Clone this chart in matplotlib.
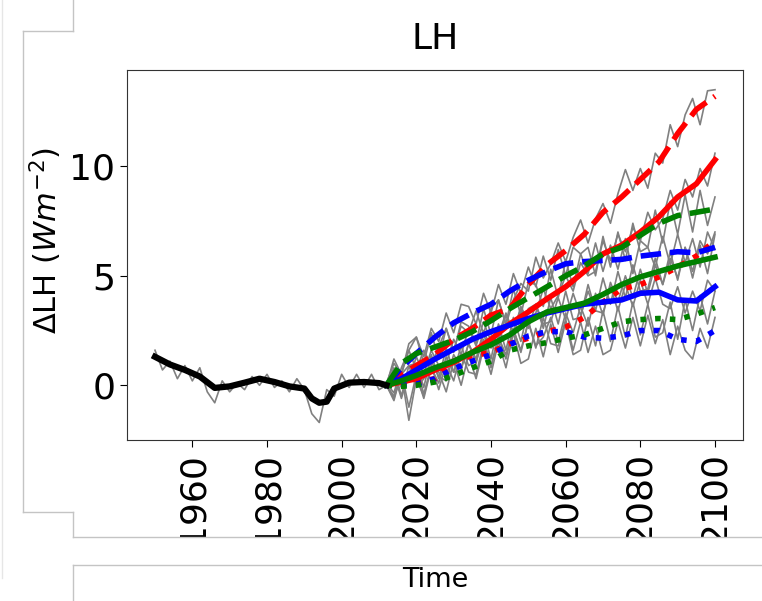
import matplotlib
matplotlib.use('Agg')
import matplotlib.pyplot as plt
from matplotlib.lines import Line2D
from matplotlib.patches import Rectangle

# historical
hist_years = [1950, 1954, 1958, 1962, 1966, 1970, 1974, 1978, 1982, 1986, 1990,
              1992, 1994, 1996, 1998, 2002, 2006, 2010, 2012]
hist_smooth = [1.3, 0.95, 0.7, 0.4, -0.12, -0.05, 0.12, 0.3, 0.15, -0.05, -0.15,
               -0.6, -0.8, -0.75, -0.15, 0.12, 0.15, 0.1, 0.0]
hist_raw_years = list(range(1950, 2013, 2))
hist_raw = [1.6, 0.7, 1.1, 0.3, 0.9, 0.2, 0.8, -0.3, -0.8, 0.2, -0.3, 0.1, -0.2, 0.4,
            0.0, 0.5, -0.1, 0.2, -0.3, 0.3, -0.2, -1.3, -1.7, -0.2, -0.5, 0.5, -0.1,
            0.5, -0.1, 0.5, -0.2, 0.0]

# projections, smoothed
fut_years = [2012, 2016, 2020, 2025, 2030, 2035, 2040, 2045, 2050, 2055, 2060,
             2065, 2070, 2075, 2080, 2085, 2090, 2095, 2100]
red_dash = [0, 0.5, 0.9, 1.4, 2.1, 2.6, 3.2, 3.5, 4.6, 5.5, 6.15, 6.9, 7.9, 8.6, 9.4, 10.2, 11.5, 12.6, 13.2]
red_solid = [0, 0.15, 0.3, 0.7, 1.05, 1.5, 2.1, 2.8, 3.35, 3.95, 4.5, 5.2, 6.0, 6.4, 7.0, 7.7, 8.6, 9.2, 10.3]
red_dot = [0, 0.1, 0.15, 0.3, 1.1, 1.35, 1.5, 1.9, 2.15, 2.45, 2.65, 3.1, 3.8, 4.4, 4.6, 4.95, 5.4, 5.9, 6.6]
blue_dash = [0, 0.8, 1.45, 2.2, 2.85, 3.3, 3.7, 4.3, 4.8, 5.2, 5.55, 5.65, 5.7, 5.75, 5.9, 6.0, 6.1, 6.05, 6.3]
blue_solid = [0, 0.3, 0.7, 1.2, 1.65, 2.1, 2.45, 2.75, 3.05, 3.3, 3.5, 3.7, 3.8, 3.9, 4.2, 4.25, 3.9, 3.85, 4.5]
blue_dot = [0, 0, 0.05, 0.3, 0.75, 1.1, 1.4, 1.85, 2.25, 2.45, 2.45, 2.2, 2.15, 2.25, 2.5, 2.5, 2.1, 2.0, 2.5]
green_dash = [0, 1.0, 1.45, 1.75, 2.05, 2.45, 2.95, 3.5, 4.0, 4.5, 5.0, 5.45, 6.0, 6.3, 6.85, 7.4, 7.75, 7.9, 8.05]
green_solid = [0, 0.2, 0.45, 0.8, 1.1, 1.5, 1.85, 2.3, 2.9, 3.35, 3.55, 3.75, 4.15, 4.6, 4.95, 5.2, 5.45, 5.65, 5.85]
green_dot = [0, -0.05, 0, 0.15, 0.45, 0.8, 1.1, 1.6, 1.8, 1.95, 2.15, 2.3, 2.6, 2.9, 3.0, 3.05, 3.0, 3.25, 3.55]

# projections, raw (every 2nd year)
raw_years = list(range(2012, 2101, 2))
red_dash_raw = [0.1, -0.35, 0.8, 1.6, 0.7, 1.6, 0.9, 1.75, 2.6, 1.6, 2.7, 2.4, 3.4, 2.35, 3.5,
                3.9, 2.75, 3.9, 4.65, 4.3, 5.85, 4.9, 5.55, 6.5, 5.65, 6.75, 7.55, 6.5, 7.6,
                8.3, 7.4, 8.75, 9.85, 8.9, 9.9, 9.0, 10.6, 10.15, 11.9, 10.9, 12.35, 13.1,
                11.9, 13.45, 13.5]
red_solid_raw = [0.0, -0.5, 0.5, 0.9, -0.1, 0.3, 1.1, 0.4, 0.2, 1.4, 0.8, 1.9, 1.2, 2.5, 1.7,
                 2.0, 3.2, 2.4, 3.6, 2.9, 3.3, 4.4, 3.5, 4.1, 5.0, 4.3, 5.6, 5.0, 5.2, 6.6,
                 5.7, 6.9, 6.1, 7.2, 6.6, 7.9, 7.1, 7.6, 8.9, 8.0, 9.4, 8.6, 9.9, 9.1, 10.6]
red_dot_raw = [0.0, 0.5, -0.6, 0.6, 0.9, -0.4, 0.8, 0.1, 1.3, 0.6, 1.8, 0.9, 1.1, 2.1, 0.9,
               2.2, 1.4, 2.5, 1.6, 2.9, 1.8, 2.2, 3.1, 2.0, 3.3, 2.4, 3.6, 2.7, 4.2, 3.2,
               4.7, 3.8, 5.0, 4.0, 5.3, 4.2, 5.5, 4.6, 5.8, 4.9, 6.3, 5.2, 6.6, 6.0, 7.0]
blue_dash_raw = [0.1, 1.0, 0.5, 1.6, 2.2, 1.3, 2.6, 2.0, 3.3, 2.4, 3.7, 3.6, 2.8, 4.2, 3.3,
                 4.6, 3.7, 5.1, 4.2, 5.4, 4.5, 5.9, 4.8, 6.2, 5.0, 6.3, 6.0, 5.1, 6.5, 5.2,
                 6.4, 5.3, 6.7, 5.1, 6.6, 6.3, 5.4, 6.8, 5.5, 6.9, 5.6, 6.7, 5.4, 7.0, 6.2]
blue_solid_raw = [0.0, 0.6, -0.1, 0.2, 1.3, 0.5, 1.6, 0.9, 1.0, 2.1, 1.4, 2.6, 1.8, 2.9, 2.0,
                  2.3, 3.3, 2.4, 3.5, 2.6, 3.7, 2.8, 2.9, 4.0, 3.0, 4.2, 3.2, 4.3, 3.4, 3.3,
                  4.5, 3.4, 4.6, 3.6, 4.8, 3.7, 4.9, 3.7, 3.5, 4.5, 3.3, 4.3, 3.4, 4.8, 4.3]
blue_dot_raw = [0.0, -0.6, 0.5, -1.6, 0.3, -0.5, 0.9, -0.2, 1.0, 0.2, 1.5, 0.6, 0.5, 1.9, 0.8,
                2.2, 1.2, 2.6, 1.5, 2.9, 1.7, 3.1, 1.9, 1.8, 3.0, 1.6, 2.9, 1.5, 2.7, 1.4,
                1.6, 2.9, 1.7, 3.1, 1.8, 3.2, 1.9, 3.0, 1.4, 2.7, 1.6, 1.2, 2.6, 1.7, 3.1]
green_dash_raw = [0.0, 1.2, 0.5, 1.9, 2.2, 1.0, 2.4, 1.2, 2.6, 1.5, 2.9, 2.7, 1.9, 3.5, 2.3,
                  3.9, 2.8, 4.4, 3.2, 4.7, 4.6, 3.6, 5.3, 4.0, 5.7, 4.5, 6.0, 6.3, 5.0, 6.8,
                  5.4, 7.0, 5.7, 7.4, 6.1, 6.3, 8.0, 6.5, 8.4, 6.9, 8.7, 7.0, 8.9, 7.3, 8.6]
green_solid_raw = [0.0, 0.8, -0.5, 0.9, 1.0, -0.1, 1.4, 0.3, 1.7, 0.6, 0.7, 1.9, 1.0, 2.4, 1.2,
                   2.8, 1.6, 3.1, 2.0, 3.5, 3.7, 2.6, 4.0, 2.8, 4.3, 3.0, 3.1, 4.6, 3.4, 4.9,
                   3.7, 5.2, 4.0, 5.5, 4.3, 4.4, 5.8, 4.6, 6.1, 4.8, 6.3, 4.9, 6.4, 5.1, 6.9]
green_dot_raw = [0.0, -0.7, 0.6, -1.0, 0.5, -0.6, 0.8, 0.6, -0.3, 1.1, 0.0, 1.4, 0.3, 1.7, 0.5,
                 2.0, 0.8, 2.4, 1.0, 1.2, 2.6, 1.3, 2.8, 1.5, 2.9, 1.4, 1.6, 3.1, 1.8, 3.4,
                 2.0, 3.6, 2.2, 3.8, 2.3, 3.7, 2.2, 2.4, 3.8, 2.1, 3.9, 2.5, 4.1, 2.8, 4.3]

W, H = 762, 601
fig = plt.figure(figsize=(W / 100, H / 100), dpi=100)
ax = fig.add_axes([127 / W, 1 - 440 / H, (743 - 127) / W, (440 - 70) / H])

raws = [red_dash_raw, red_solid_raw, red_dot_raw, blue_dash_raw, blue_solid_raw,
        blue_dot_raw, green_dash_raw, green_solid_raw, green_dot_raw]
ax.plot(hist_raw_years, hist_raw, color='gray', lw=1.2, zorder=1)
for r in raws:
    ax.plot(raw_years, r, color='gray', lw=1.2, zorder=1)

series = [(red_dash, 'red', '--'), (red_solid, 'red', '-'), (red_dot, 'red', ':'),
          (blue_dash, 'blue', '--'), (blue_solid, 'blue', '-'), (blue_dot, 'blue', ':'),
          (green_dash, 'green', '--'), (green_solid, 'green', '-'), (green_dot, 'green', ':')]
for vals, c, ls in series:
    ax.plot(fut_years, vals, color=c, ls=ls, lw=4, zorder=2)
ax.plot(hist_years, hist_smooth, color='black', lw=4.5, zorder=3)

ax.set_xlim(1942.5, 2107.5)
ax.set_ylim(-2.5, 14.4)
ax.set_xticks(range(1960, 2101, 20))
ax.set_yticks([0, 5, 10])
ax.tick_params(axis='both', labelsize=26, length=5)
ax.tick_params(axis='x', labelrotation=90)
for s in ax.spines.values():
    s.set_color('#333333')

ax.set_title('LH', fontsize=26, pad=15)
fig.text(46 / W, 1 - 240 / H, r'$\Delta$LH ($Wm^{-2}$)', rotation=90,
         fontsize=22, ha='center', va='center')

# cut off below the plot panel, then the "Time" panel
fig.patches.append(Rectangle((73 / W, 1 - 564 / H), 1, 27 / H, transform=fig.transFigure,
                             facecolor='white', edgecolor='none', zorder=10))
fig.text(435 / W, 1 - 580 / H, 'Time', fontsize=19.5, ha='center', va='center', zorder=11)

frame = [((73, 0), (73, 31)), ((23, 31), (73, 31)), ((23, 31), (23, 512)),
         ((23, 512), (73, 512)), ((73, 512), (73, 537)), ((73, 537), (762, 537)),
         ((73, 565), (762, 565)), ((73, 565), (73, 601))]
for (x0, y0), (x1, y1) in frame:
    fig.add_artist(Line2D([x0 / W, x1 / W], [1 - y0 / H, 1 - y1 / H], color='#c4c4c4',
                          lw=1, transform=fig.transFigure, zorder=12))
fig.add_artist(Line2D([1.5 / W, 1.5 / W], [1, 1 - 578 / H], color='#e6e6e6', lw=1,
                      transform=fig.transFigure, zorder=12))

fig.savefig('out.png', dpi=100)
